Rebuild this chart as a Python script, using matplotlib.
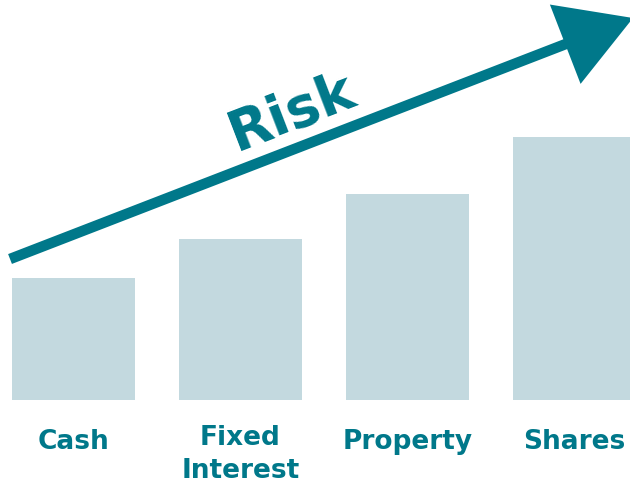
import matplotlib.pyplot as plt
from matplotlib.patches import FancyArrowPatch

# chart data (bar heights in units of 100 px)
categories = ["Cash", "Fixed\nInterest", "Property", "Shares"]
risk_levels = [1.22, 1.61, 2.06, 2.63]
label_y = [-0.41, -0.54, -0.41, -0.41]

teal = "#00788a"
bar_color = "#c3d9df"

fig = plt.figure(figsize=(6.3, 4.85), dpi=100)
ax = fig.add_axes([0, 0, 1, 1])
ax.set_xlim(-0.44, 3.332)
ax.set_ylim(-0.84, 4.01)
ax.axis("off")

x = list(range(len(categories)))
ax.bar(x, risk_levels, width=0.737, color=bar_color, linewidth=0)

for xi, name, ly in zip(x, categories, label_y):
    ax.text(xi, ly, name, ha="center", va="center", fontsize=19,
            fontweight="bold", color=teal, family="DejaVu Sans", linespacing=1.35)

# the rising risk arrow
arrow = FancyArrowPatch((-0.38, 1.41), (3.35, 3.82),
                        arrowstyle="-|>,head_length=41,head_width=24",
                        mutation_scale=1, lw=7.6, color=teal,
                        shrinkA=0, shrinkB=0, capstyle="butt", joinstyle="miter")
ax.add_patch(arrow)

ax.text(1.31, 2.88, "Risk", rotation=21, ha="center", va="center",
        rotation_mode="anchor", fontsize=40, fontweight="bold", color=teal,
        family="DejaVu Sans")

fig.savefig("out.png", dpi=100)
